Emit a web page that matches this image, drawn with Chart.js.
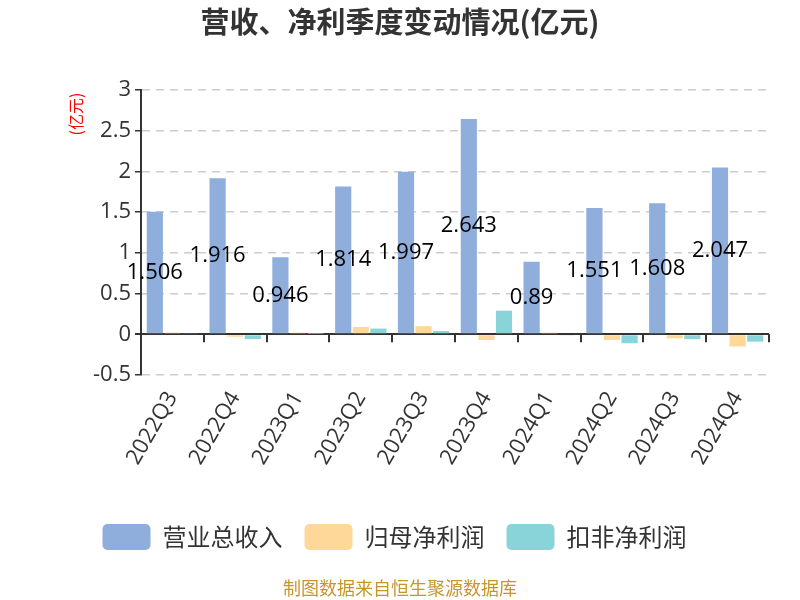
<!DOCTYPE html>
<html>
<head>
<meta charset="utf-8">
<script src="https://cdn.jsdelivr.net/npm/chart.js@4/dist/chart.umd.min.js"></script>
<style>
  html, body { margin: 0; padding: 0; background: #fff; }
  #wrap { width: 800px; height: 600px; position: relative; }
</style>
</head>
<body>
<div id="wrap"><canvas id="c" width="800" height="600"></canvas></div>
<script>
  const quarters = ["2022Q3", "2022Q4", "2023Q1", "2023Q2", "2023Q3", "2023Q4", "2024Q1", "2024Q2", "2024Q3", "2024Q4"];
  const revenue = [1.506, 1.916, 0.946, 1.814, 1.997, 2.643, 0.89, 1.551, 1.608, 2.047];
  const netProfit = [0.02, -0.03, 0.02, 0.09, 0.10, -0.07, 0.02, -0.07, -0.05, -0.15];
  const deductedProfit = [0.01, -0.06, 0.005, 0.07, 0.04, 0.29, -0.01, -0.11, -0.06, -0.09];
  const seriesNames = ["营业总收入", "归母净利润", "扣非净利润"];
  const yMin = -0.5, yMax = 3, yStep = 0.5;

  const FONT = "'Open Sans', 'Noto Sans CJK SC', sans-serif";
  const CJK = "'Noto Sans CJK SC', sans-serif";

  // title, unit label, source note, zero-line ticks and revenue value labels
  const decorations = {
    id: "decorations",
    afterDatasetsDraw(chart) {
      const { ctx, scales } = chart;
      const x = scales.x, y = scales.y;
      const zero = y.getPixelForValue(0);
      ctx.save();

      // tick marks hanging under the zero line at category boundaries
      ctx.strokeStyle = "#333";
      ctx.lineWidth = 2;
      const half = (x.getPixelForValue(1) - x.getPixelForValue(0)) / 2;
      for (let i = 0; i <= quarters.length; i++) {
        const px = Math.round(x.getPixelForValue(i) - half);
        ctx.beginPath();
        ctx.moveTo(px, zero);
        ctx.lineTo(px, zero + 8);
        ctx.stroke();
      }

      // value labels on revenue bars
      const meta = chart.getDatasetMeta(0);
      ctx.fillStyle = "#000";
      ctx.font = "22px " + FONT;
      ctx.textAlign = "center";
      ctx.textBaseline = "middle";
      meta.data.forEach((bar, i) => {
        ctx.fillText(String(revenue[i]), bar.x, (bar.y + bar.base) / 2);
      });

      // title
      ctx.fillStyle = "#333";
      ctx.font = "bold 29px " + CJK;
      ctx.fillText("营收、净利季度变动情况(亿元)", 400, 22);

      // unit
      ctx.save();
      ctx.translate(76, 114);
      ctx.rotate(-Math.PI / 2);
      ctx.fillStyle = "#ff0000";
      ctx.font = "16px " + CJK;
      ctx.fillText("(亿元)", 0, 0);
      ctx.restore();

      // source
      ctx.fillStyle = "#c8952c";
      ctx.font = "18px " + CJK;
      ctx.fillText("制图数据来自恒生聚源数据库", 400, 588);
      ctx.restore();
    }
  };

  new Chart(document.getElementById("c"), {
    type: "bar",
    data: {
      labels: quarters,
      datasets: [
        { label: seriesNames[0], data: revenue, backgroundColor: "#8faedb" },
        { label: seriesNames[1], data: netProfit, backgroundColor: "#fed898" },
        { label: seriesNames[2], data: deductedProfit, backgroundColor: "#88d4d8" }
      ]
    },
    options: {
      responsive: false,
      animation: false,
      layout: { padding: { top: 90, right: 31, left: 20, bottom: 40 } },
      datasets: { bar: { barPercentage: 0.92, categoryPercentage: 0.84 } },
      plugins: {
        legend: {
          position: "bottom",
          labels: {
            color: "#333",
            font: { size: 24, family: CJK },
            boxWidth: 48,
            boxHeight: 26,
            useBorderRadius: true,
            borderRadius: 5,
            padding: 22
          }
        },
        tooltip: { enabled: false }
      },
      scales: {
        x: {
          grid: { display: false },
          border: { display: false },
          afterFit: (s) => { s.height = 127; },
          ticks: {
            color: "#333",
            font: { size: 22, family: FONT },
            minRotation: 60,
            maxRotation: 60,
            padding: 4
          }
        },
        y: {
          min: yMin,
          max: yMax,
          afterFit: (s) => { s.width = 121; },
          ticks: {
            stepSize: yStep,
            color: "#333",
            font: { size: 22, family: FONT },
            padding: 4,
            callback: (v) => String(Math.round(v * 10) / 10)
          },
          grid: {
            color: (c) => (c.tick && c.tick.value === 0 ? "#333" : "#cccccc"),
            lineWidth: (c) => (c.tick && c.tick.value === 0 ? 2 : 1.5),
            tickColor: "#333",
            tickLength: 6,
            tickBorderDash: []
          },
          border: {
            display: true,
            color: "#333",
            width: 2,
            dash: (c) => (c.tick && c.tick.value === 0 ? [] : [8, 6])
          }
        }
      }
    },
    plugins: [decorations]
  });
</script>
</body>
</html>
